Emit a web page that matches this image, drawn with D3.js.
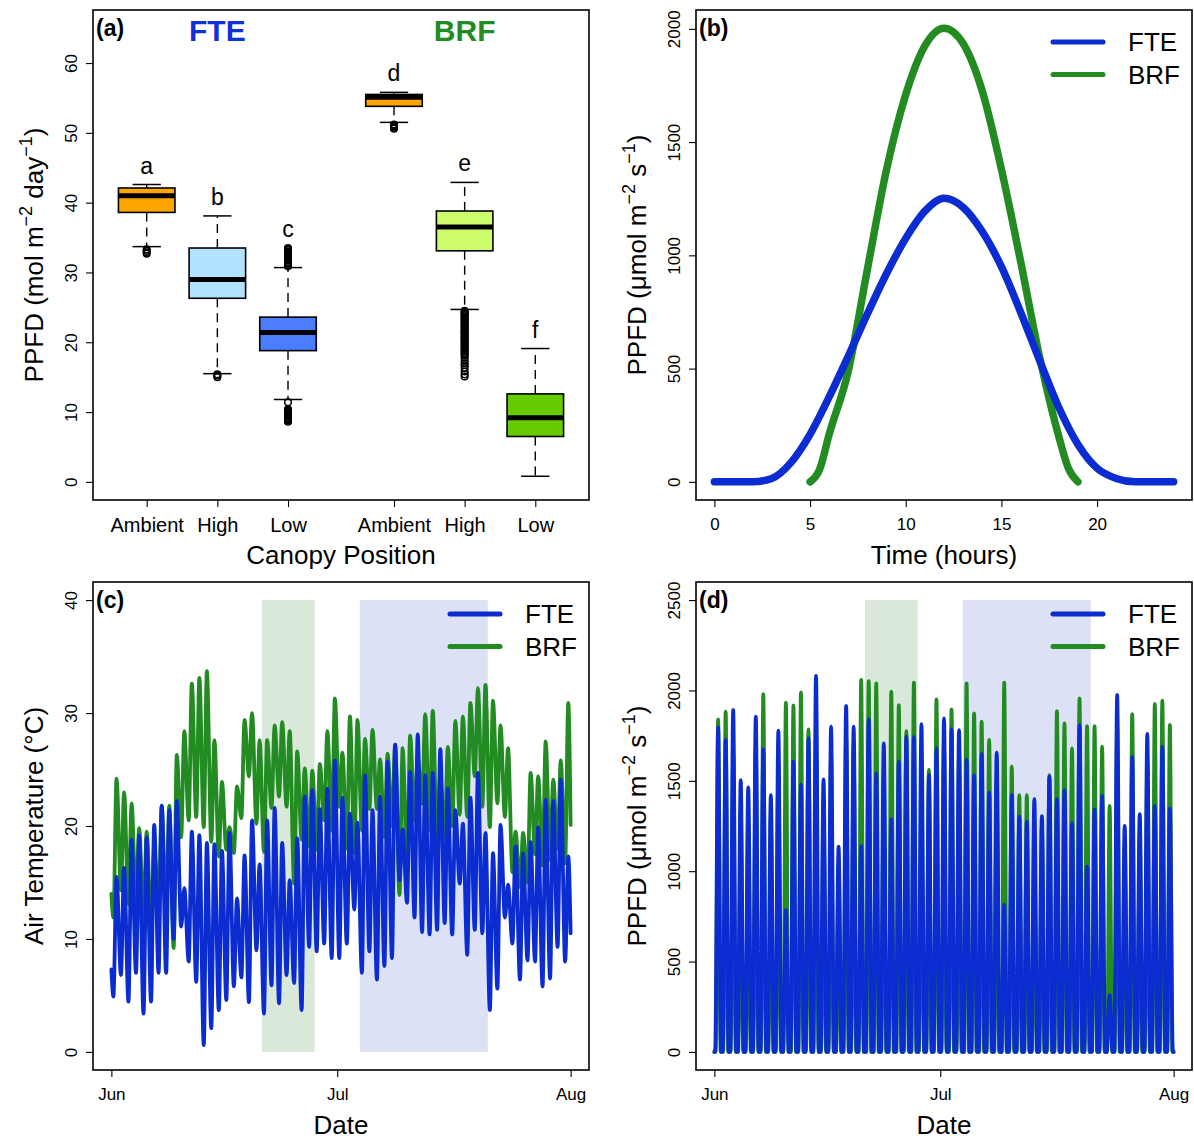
<!DOCTYPE html>
<html>
<head>
<meta charset="utf-8">
<script src="https://cdn.jsdelivr.net/npm/d3@7"></script>
<style>
  body { margin: 0; background: #fff; }
  svg { display: block; }
</style>
</head>
<body>
<svg id="fig" width="1194" height="1140"></svg>
<script>
// ---------------- (a) daily PPFD by canopy position ----------------
const boxGroups  = ["Ambient", "High", "Low", "Ambient", "High", "Low"];
const boxSites   = ["FTE", "FTE", "FTE", "BRF", "BRF", "BRF"];
const boxLetters = ["a", "b", "c", "d", "e", "f"];
const boxLow  = [33.7, 15.5, 11.8, 51.5, 24.7, 0.8];
const boxQ1   = [38.6, 26.3, 18.8, 53.8, 33.1, 6.5];
const boxMed  = [41.0, 29.0, 21.4, 55.1, 36.5, 9.2];
const boxQ3   = [42.1, 33.5, 23.6, 55.5, 38.8, 12.6];
const boxHigh = [42.6, 38.1, 30.7, 55.8, 42.9, 19.1];
const boxOutliers = [
  [33.3, 33.1, 32.9, 32.7],
  [15.4, 15.2, 15.0],
  [33.5, 33.35, 33.2, 33.0, 32.85, 32.7, 32.5, 32.35, 32.2, 32.0, 31.85, 31.7,
   31.5, 31.35, 31.2, 31.05, 30.9,
   11.4, 10.4, 10.25, 10.1, 9.95, 9.8, 9.6, 9.45, 9.3, 9.1, 8.95, 8.8, 8.6],
  [51.2, 51.05, 50.9, 50.75, 50.6],
  [24.5, 24.35, 24.2, 24.05, 23.9, 23.7, 23.5, 23.35, 23.2, 23.0, 22.8, 22.6,
   22.45, 22.3, 22.1, 21.9, 21.7, 21.55, 21.4, 21.2, 21.0, 20.8, 20.6, 20.45,
   20.3, 20.1, 19.9, 19.7, 19.5, 19.3, 19.1, 18.9, 18.7, 18.5, 18.3, 18.1,
   17.8, 17.4, 17.0, 16.7, 16.3, 15.8, 15.4, 15.1],
  []
];
const yTicksA = [0, 10, 20, 30, 40, 50, 60];

// ---------------- (b) mean diurnal PPFD ----------------
const hoursFTE = [0, 1, 2, 3, 4, 5, 6, 7, 8, 9, 10, 11, 12, 13, 14, 15, 16, 17, 18, 19, 20, 21, 22, 23, 24];
const ppfdFTE  = [0, 0, 0, 15, 85, 210, 375, 555, 742, 920, 1075, 1195, 1252, 1212, 1105, 950, 750, 535, 328, 165, 60, 15, 0, 0, 0];
const hoursBRF = [5, 5.5, 6, 7, 8, 9, 10, 11, 12, 13, 14, 15, 16, 17, 18, 18.5, 19];
const ppfdBRF  = [0, 55, 210, 490, 940, 1380, 1710, 1925, 2003, 1935, 1725, 1380, 975, 550, 200, 60, 0];
const xTicksB = [0, 5, 10, 15, 20];
const yTicksB = [0, 500, 1000, 1500, 2000];

// ---------------- (c) air temperature, daily minima / maxima (1 Jun - 31 Jul) ----------------
const tempStartFTE = 7.3, tempEndFTE = 10.5;
const tempStartBRF = 14.0, tempEndBRF = 20.1;
const tminFTE = [4.9, 6.8, 4.45, 7.0, 3.4, 4.45, 7.0, 7.0, 10.0, 11.1,
  8.0, 6.2, 0.6, 2.1, 3.7, 4.6, 5.8, 6.6, 4.4, 9.0,
  3.4, 5.9, 4.3, 6.8, 6.1, 3.7, 9.3, 8.9, 9.6, 8.3,
  8.3, 9.6, 12.6, 7.0, 8.9, 6.4, 7.6, 8.3, 15.2, 13.2,
  11.9, 10.6, 10.4, 10.8, 11.4, 10.4, 14.9, 8.6, 10.8, 10.5,
  3.7, 5.6, 11.9, 9.6, 6.4, 8.1, 8.0, 5.8, 6.5, 9.3, 8.0];
const tmaxFTE = [15.5, 16.3, 18.8, 19.2, 19.0, 20.1, 21.8, 21.4, 22.2, 14.5,
  19.5, 19.2, 18.5, 18.4, 17.8, 19.4, 13.6, 17.4, 20.5, 16.6,
  20.5, 21.6, 18.5, 15.2, 18.9, 22.6, 23.2, 21.5, 23.3, 25.8,
  22.5, 21.1, 20.3, 24.5, 21.4, 22.6, 25.7, 27.2, 19.7, 24.8,
  28.1, 24.5, 24.7, 26.8, 23.3, 21.4, 20.2, 22.5, 24.7, 19.4,
  17.6, 20.1, 14.8, 18.2, 17.6, 18.6, 19.9, 22.3, 22.2, 24.1, 17.3];
const tminBRF = [11.9, 14.3, 13.1, 13.0, 11.9, 11.1, 13.0, 12.5, 9.2, 19.0,
  20.5, 20.8, 19.9, 18.6, 17.3, 17.9, 17.6, 20.7, 24.4, 20.2,
  17.7, 21.6, 22.6, 21.7, 14.9, 18.8, 18.2, 17.9, 20.5, 19.6,
  21.7, 18.0, 17.6, 19.6, 21.5, 21.5, 19.0, 20.0, 13.9, 16.5,
  20.5, 22.0, 19.6, 18.0, 19.0, 20.0, 21.0, 20.8, 24.4, 21.7,
  19.9, 22.0, 20.8, 15.9, 14.6, 15.0, 17.5, 16.5, 17.0, 18.0, 16.7];
const tmaxBRF = [24.2, 23.0, 22.0, 19.8, 19.5, 18.0, 21.8, 21.8, 26.3, 28.4,
  32.6, 33.1, 33.7, 27.6, 23.9, 19.9, 23.5, 29.4, 30.0, 27.6,
  27.6, 28.9, 29.2, 28.4, 26.6, 25.1, 24.9, 25.5, 28.4, 31.3,
  26.5, 29.7, 29.4, 27.7, 28.5, 25.9, 26.4, 27.2, 26.9, 28.0,
  26.1, 29.9, 30.2, 24.5, 27.0, 29.3, 29.7, 30.9, 32.2, 32.5,
  31.1, 28.9, 26.9, 19.5, 19.4, 24.7, 24.4, 27.5, 24.1, 25.8, 30.9];
const yTicksC = [0, 10, 20, 30, 40];

// ---------------- (d) daily midday PPFD peaks (1 Jun - 31 Jul) ----------------
const peakFTE = [1796, 1726, 1892, 1504, 1464, 1855, 1674, 1421, 1777, 785,
  1606, 1477, 1735, 2081, 1508, 1799, 1136, 1914, 1799, 1139,
  1840, 1541, 1707, 1287, 1606, 1744, 1741, 1814, 1532, 1680,
  1846, 1785, 1781, 1619, 1532, 1647, 1434, 1656, 813, 1421,
  1302, 1274, 1398, 1305, 1523, 1398, 1449, 1265, 1808, 1025,
  1342, 1416, 315, 1975, 1250, 1633, 1315, 1759, 1361, 1689, 1348];
const peakBRF = [1840, 1882, 1650, 1350, 1300, 1700, 1980, 1300, 1600, 1932,
  1917, 1989, 1785, 1750, 1400, 1650, 1050, 1750, 1700, 2058,
  2052, 2039, 1550, 1993, 1919, 1775, 2043, 1600, 1560, 1951,
  1700, 1895, 1650, 2039, 1873, 1827, 1726, 1500, 2043, 1578,
  1421, 1421, 1182, 1250, 1532, 1886, 1818, 1680, 1956, 1803,
  1803, 1689, 1361, 1800, 1150, 1869, 1200, 1600, 1925, 1943, 1809];
const yTicksD = [0, 500, 1000, 1500, 2000, 2500];

// shaded periods (1 Jun + days)
const shadeStart = [20, 33];
const shadeEnd   = [27, 50];

// ---------------------------------------------------------------
const FONT = '"Liberation Sans", Arial, Helvetica, sans-serif';
const BLUE = "#0b2cd0", GREEN = "#228b22";
const svg = d3.select("#fig");
const DAY = 86400000;
const t0 = Date.UTC(2016, 5, 1);
const tEnd = Date.UTC(2016, 7, 1);
const monthTicks = [new Date(t0), new Date(Date.UTC(2016, 6, 1)), new Date(tEnd)];

const frames = {
  a: { x0: 93,  x1: 589,  y0: 10,  y1: 500 },
  b: { x0: 696, x1: 1192, y0: 10,  y1: 500 },
  c: { x0: 93,  x1: 589,  y0: 582, y1: 1070 },
  d: { x0: 696, x1: 1192, y0: 582, y1: 1070 }
};
// 4% padding on each side of the data range
function inner(lo, hi) { const p = (hi - lo) / 27; return [lo + p, hi - p]; }

function leftAxis(f, y, ticks) {
  const g = svg.append("g").attr("transform", `translate(${f.x0},0)`)
    .call(d3.axisLeft(y).tickValues(ticks).tickSize(7).tickSizeOuter(0).tickFormat(d3.format("d")));
  g.select(".domain").remove();
  g.selectAll(".tick line").attr("stroke", "#000").attr("stroke-width", 1.1);
  g.selectAll(".tick text")
    .attr("transform", "rotate(-90)")
    .attr("x", 0).attr("y", -16).attr("dy", null)
    .attr("text-anchor", "middle")
    .attr("font-family", FONT).attr("font-size", 17).attr("fill", "#000");
  return g;
}
function bottomAxis(f, x, ticks, fmt, size) {
  const g = svg.append("g").attr("transform", `translate(0,${f.y1})`)
    .call(d3.axisBottom(x).tickValues(ticks).tickSize(7).tickSizeOuter(0).tickFormat(fmt));
  g.select(".domain").remove();
  g.selectAll(".tick line").attr("stroke", "#000").attr("stroke-width", 1.1);
  g.selectAll(".tick text")
    .attr("y", size > 18 ? 32 : 30).attr("dy", null)
    .attr("font-family", FONT).attr("font-size", size).attr("fill", "#000");
  return g;
}
function frameBox(f) {
  svg.append("rect").attr("x", f.x0).attr("y", f.y0)
    .attr("width", f.x1 - f.x0).attr("height", f.y1 - f.y0)
    .attr("fill", "none").attr("stroke", "#000").attr("stroke-width", 1.6);
}
function panelTag(f, s) {
  svg.append("text").attr("x", f.x0 + 3).attr("y", f.y0 + 26)
    .attr("font-family", FONT).attr("font-size", 23).attr("font-weight", "bold").text(s);
}
function xTitle(f, s) {
  svg.append("text").attr("x", (f.x0 + f.x1) / 2).attr("y", f.y1 + 64)
    .attr("text-anchor", "middle").attr("font-family", FONT).attr("font-size", 26).text(s);
}
// rotated axis title; parts are plain strings or {sup: "..."}
function yTitle(f, bx, parts) {
  const t = svg.append("text")
    .attr("transform", `translate(${bx},${(f.y0 + f.y1) / 2}) rotate(-90)`)
    .attr("text-anchor", "middle").attr("font-family", FONT).attr("font-size", 26);
  let off = 0;
  parts.forEach(p => {
    if (typeof p === "string") {
      t.append("tspan").attr("dy", -off).text(p); off = 0;
    } else {
      t.append("tspan").attr("dy", -11 - off).attr("font-size", 18).text(p.sup); off = -11;
    }
  });
}
function legend(x, y, names, colors) {
  names.forEach((n, i) => {
    const yy = y + i * 32.5;
    svg.append("line").attr("x1", x).attr("x2", x + 50).attr("y1", yy).attr("y2", yy)
      .attr("stroke", colors[i]).attr("stroke-width", 5).attr("stroke-linecap", "round");
    svg.append("text").attr("x", x + 75).attr("y", yy + 9)
      .attr("font-family", FONT).attr("font-size", 26).text(n);
  });
}

// ================= panel (a) =================
{
  const f = frames.a;
  const boxAt = [1, 2, 3, 4.5, 5.5, 6.5];
  const fills = ["#ffa500", "#b3e2ff", "#4a7dff", "#ffa500", "#ccfb6c", "#66cc00"];
  const x = d3.scaleLinear().domain([0.5, 7]).range(inner(f.x0, f.x1));
  const y = d3.scaleLinear().domain([0, 65]).range(inner(f.y1, f.y0));
  const g = svg.append("g");
  boxGroups.forEach((grp, i) => {
    const cx = x(boxAt[i]);
    const hw = x(boxAt[i] + 0.4) - cx;
    const sw = hw / 2;
    const dash = { stroke: "#000", "stroke-width": 1.4, "stroke-dasharray": "9,6" };
    const w1 = g.append("line").attr("x1", cx).attr("x2", cx).attr("y1", y(boxQ3[i])).attr("y2", y(boxHigh[i]));
    const w2 = g.append("line").attr("x1", cx).attr("x2", cx).attr("y1", y(boxQ1[i])).attr("y2", y(boxLow[i]));
    [w1, w2].forEach(l => Object.entries(dash).forEach(([k, v]) => l.attr(k, v)));
    [boxHigh[i], boxLow[i]].forEach(v => g.append("line")
      .attr("x1", cx - sw).attr("x2", cx + sw).attr("y1", y(v)).attr("y2", y(v))
      .attr("stroke", "#000").attr("stroke-width", 1.5));
    g.append("rect").attr("x", cx - hw).attr("width", 2 * hw)
      .attr("y", y(boxQ3[i])).attr("height", y(boxQ1[i]) - y(boxQ3[i]))
      .attr("fill", fills[i]).attr("stroke", "#000").attr("stroke-width", 1.6);
    g.append("line").attr("x1", cx - hw).attr("x2", cx + hw)
      .attr("y1", y(boxMed[i])).attr("y2", y(boxMed[i]))
      .attr("stroke", "#000").attr("stroke-width", 5);
    g.selectAll(null).data(boxOutliers[i]).join("circle")
      .attr("cx", cx).attr("cy", v => y(v)).attr("r", 3.3)
      .attr("fill", "none").attr("stroke", "#000").attr("stroke-width", 1.5);
    const top = d3.max([boxHigh[i], ...boxOutliers[i]]);
    g.append("text").attr("x", cx).attr("y", y(top) - 11)
      .attr("text-anchor", "middle").attr("font-family", FONT).attr("font-size", 23)
      .text(boxLetters[i]);
  });
  // site headers centred over each site's group
  ["FTE", "BRF"].forEach((site, k) => {
    const idx = boxSites.map((s, i) => s === site ? boxAt[i] : null).filter(v => v !== null);
    svg.append("text").attr("x", x(d3.mean(idx))).attr("y", 41)
      .attr("text-anchor", "middle").attr("font-family", FONT).attr("font-size", 30)
      .attr("font-weight", "bold").attr("fill", k === 0 ? "#1030d8" : GREEN).text(site);
  });
  leftAxis(f, y, yTicksA);
  bottomAxis(f, x, boxAt, (d, i) => boxGroups[i], 20);
  frameBox(f);
  panelTag(f, "(a)");
  xTitle(f, "Canopy Position");
  yTitle(f, 43, ["PPFD (mol m", { sup: "\u22122" }, " day", { sup: "\u22121" }, ")"]);
}

// ================= panel (b) =================
{
  const f = frames.b;
  const x = d3.scaleLinear().domain([0, 24]).range(inner(f.x0, f.x1));
  const y = d3.scaleLinear().domain([0, d3.max(ppfdBRF)]).range(inner(f.y1, f.y0));
  const line = d3.line().x(d => x(d[0])).y(d => y(d[1])).curve(d3.curveMonotoneX);
  [[hoursBRF, ppfdBRF, GREEN], [hoursFTE, ppfdFTE, BLUE]].forEach(([h, v, c]) => {
    svg.append("path").attr("d", line(d3.zip(h, v)))
      .attr("fill", "none").attr("stroke", c).attr("stroke-width", 7.5)
      .attr("stroke-linecap", "round").attr("stroke-linejoin", "round");
  });
  legend(1053, 42, ["FTE", "BRF"], [BLUE, GREEN]);
  leftAxis(f, y, yTicksB);
  bottomAxis(f, x, xTicksB, d3.format("d"), 17);
  frameBox(f);
  panelTag(f, "(b)");
  xTitle(f, "Time (hours)");
  yTitle(f, 646, ["PPFD (\u03bcmol m", { sup: "\u22122" }, " s", { sup: "\u22121" }, ")"]);
}

// daily extremes placed at their usual hours of occurrence
function tempSeries(start, mins, maxs, end) {
  const pts = [[t0, start]];
  mins.forEach((mn, d) => {
    pts.push([t0 + (d + 6.5 / 24) * DAY, mn]);
    pts.push([t0 + (d + 16.5 / 24) * DAY, maxs[d]]);
  });
  pts.push([tEnd, end]);
  return pts;
}
// daily light curve: dark at dawn/dusk, peak at solar noon
function lightSeries(peaks, dawn, dusk) {
  const pts = [[t0, 0]];
  peaks.forEach((p, d) => {
    pts.push([t0 + (d + dawn / 24) * DAY, 0]);
    pts.push([t0 + (d + 0.5) * DAY, p]);
    pts.push([t0 + (d + dusk / 24) * DAY, 0]);
  });
  pts.push([tEnd, 0]);
  return pts;
}
function shading(x, y, yTop) {
  const cols = ["#d9e8d9", "#dce1f5"];
  shadeStart.forEach((s, i) => {
    svg.append("rect")
      .attr("x", x(new Date(t0 + s * DAY))).attr("width", x(new Date(t0 + shadeEnd[i] * DAY)) - x(new Date(t0 + s * DAY)))
      .attr("y", y(yTop)).attr("height", y(0) - y(yTop)).attr("fill", cols[i]);
  });
}

// ================= panel (c) =================
{
  const f = frames.c;
  const x = d3.scaleUtc().domain([new Date(t0), new Date(tEnd)]).range(inner(f.x0, f.x1));
  const y = d3.scaleLinear().domain([0, 40]).range(inner(f.y1, f.y0));
  shading(x, y, 40);
  const line = d3.line().x(d => x(new Date(d[0]))).y(d => y(d[1])).curve(d3.curveMonotoneX);
  [[tempSeries(tempStartBRF, tminBRF, tmaxBRF, tempEndBRF), GREEN],
   [tempSeries(tempStartFTE, tminFTE, tmaxFTE, tempEndFTE), BLUE]].forEach(([pts, c]) => {
    svg.append("path").attr("d", line(pts)).attr("fill", "none").attr("stroke", c)
      .attr("stroke-width", 3.8).attr("stroke-linecap", "round").attr("stroke-linejoin", "round");
  });
  legend(450, 614, ["FTE", "BRF"], [BLUE, GREEN]);
  leftAxis(f, y, yTicksC);
  bottomAxis(f, x, monthTicks, d3.utcFormat("%b"), 17);
  frameBox(f);
  panelTag(f, "(c)");
  xTitle(f, "Date");
  yTitle(f, 43, ["Air Temperature (\u00b0C)"]);
}

// ================= panel (d) =================
{
  const f = frames.d;
  const x = d3.scaleUtc().domain([new Date(t0), new Date(tEnd)]).range(inner(f.x0, f.x1));
  const y = d3.scaleLinear().domain([0, 2500]).range(inner(f.y1, f.y0));
  shading(x, y, 2500);
  const line = d3.line().x(d => x(new Date(d[0]))).y(d => y(d[1])).curve(d3.curveMonotoneX);
  [[lightSeries(peakBRF, 4, 20), GREEN], [lightSeries(peakFTE, 2.5, 21.5), BLUE]].forEach(([pts, c]) => {
    svg.append("path").attr("d", line(pts)).attr("fill", "none").attr("stroke", c)
      .attr("stroke-width", 3.8).attr("stroke-linecap", "round").attr("stroke-linejoin", "round");
  });
  legend(1053, 614, ["FTE", "BRF"], [BLUE, GREEN]);
  leftAxis(f, y, yTicksD);
  bottomAxis(f, x, monthTicks, d3.utcFormat("%b"), 17);
  frameBox(f);
  panelTag(f, "(d)");
  xTitle(f, "Date");
  yTitle(f, 646, ["PPFD (\u03bcmol m", { sup: "\u22122" }, " s", { sup: "\u22121" }, ")"]);
}
</script>
</body>
</html>
